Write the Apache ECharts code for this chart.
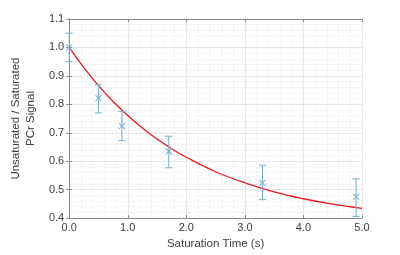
<!DOCTYPE html>
<html><head><meta charset="utf-8">
<script src="https://cdn.jsdelivr.net/npm/echarts@6/dist/echarts.min.js"></script>
<style>html,body{margin:0;padding:0;background:#fff}#c{width:400px;height:255px}</style>
</head><body><div id="c"></div>
<script>
// measured data points with error bars
var timeVals = [0.0, 0.5, 0.9, 1.7, 3.3, 4.9];
var meanVals = [1.000, 0.822, 0.723, 0.635, 0.524, 0.475];
var lowVals  = [0.950, 0.770, 0.673, 0.577, 0.465, 0.406];
var highVals = [1.050, 0.869, 0.775, 0.688, 0.586, 0.538];
// fitted curve samples
var fitTimes = [0, 0.25, 0.5, 0.75, 1.0, 1.25, 1.5, 1.75, 2.0, 2.5, 3.0, 3.5, 4.0, 4.5, 5.0];
var fitVals  = [1.000, 0.929, 0.866, 0.810, 0.761, 0.717, 0.678, 0.644, 0.614, 0.563, 0.524, 0.492, 0.468, 0.449, 0.434];
var xTicks = ['0.0','1.0','2.0','3.0','4.0','5.0'];

var errColor = '#7db4d2';
var font = 'Liberation Sans, Arial, sans-serif';

var errData = timeVals.map(function(t,i){return [t, meanVals[i], lowVals[i], highVals[i]];});
var fitData = fitTimes.map(function(t,i){return [t, fitVals[i]];});

var chart = echarts.init(document.getElementById('c'), null, {renderer:'canvas'});
var axisCommon = {
  axisLine:{show:true, lineStyle:{color:'#8a8a8a', width:1}},
  axisTick:{show:true, inside:true, length:3, lineStyle:{color:'#8a8a8a'}},
  minorTick:{show:false, splitNumber:5},
};
chart.setOption({
  animation:false,
  backgroundColor:'#fff',
  grid:{left:58, right:38, top:19, bottom:36, show:false},
  xAxis:[Object.assign({
    type:'value', min:0, max:5, interval:1, position:'bottom',
    axisLabel:{color:'#404040', fontSize:11, fontFamily:font, margin:4,
      formatter:function(v){return xTicks[Math.round(v)];}},
    splitLine:{show:true, lineStyle:{color:'#e6e6e6', width:1}},
    minorTick:{show:false, splitNumber:5},
    minorSplitLine:{show:true, lineStyle:{color:'#efefef', type:[2,2], width:1}},
    name:'Saturation Time (s)', nameLocation:'middle', nameGap:19,
    nameTextStyle:{color:'#404040', fontSize:11.5, fontFamily:font}
  }, {axisLine:axisCommon.axisLine, axisTick:axisCommon.axisTick}),
  Object.assign({
    type:'value', min:0, max:5, interval:1, position:'top',
    axisLabel:{show:false}, splitLine:{show:false}
  }, {axisLine:axisCommon.axisLine, axisTick:axisCommon.axisTick})],
  yAxis:[Object.assign({
    type:'value', min:0.4, max:1.1, interval:0.1, position:'left',
    axisLabel:{color:'#404040', fontSize:11, fontFamily:font, margin:5,
      formatter:function(v){return v.toFixed(1);}},
    splitLine:{show:true, lineStyle:{color:'#e6e6e6', width:1}},
    minorTick:{show:false, splitNumber:5},
    minorSplitLine:{show:true, lineStyle:{color:'#efefef', type:[2,2], width:1}},
    name:'Unsaturated / Saturated\nPCr Signal', nameLocation:'middle', nameGap:22,
    nameRotate:90,
    nameTextStyle:{color:'#404040', fontSize:11.5, fontFamily:font, lineHeight:15, align:'center'}
  }, {axisLine:axisCommon.axisLine, axisTick:axisCommon.axisTick}),
  Object.assign({
    type:'value', min:0.4, max:1.1, interval:0.1, position:'right',
    axisLabel:{show:false}, splitLine:{show:false}
  }, {axisLine:axisCommon.axisLine, axisTick:axisCommon.axisTick})],
  series:[
    {
      type:'line', data:fitData, smooth:0.4, showSymbol:false, symbol:'none',
      lineStyle:{color:'#e8191c', width:1.3}, z:3
    },
    {
      type:'custom', data:errData, z:4,
      renderItem:function(params, api){
        var x = api.value(0);
        var c = api.coord([x, api.value(1)]);
        var lo = api.coord([x, api.value(2)]);
        var hi = api.coord([x, api.value(3)]);
        var cap = 3.5, m = 3;
        var st = {stroke:errColor, lineWidth:1.1};
        return {type:'group', children:[
          {type:'line', shape:{x1:c[0], y1:lo[1], x2:c[0], y2:hi[1]}, style:st},
          {type:'line', shape:{x1:c[0]-cap, y1:lo[1], x2:c[0]+cap, y2:lo[1]}, style:st},
          {type:'line', shape:{x1:c[0]-cap, y1:hi[1], x2:c[0]+cap, y2:hi[1]}, style:st},
          {type:'line', shape:{x1:c[0]-m, y1:c[1]-m, x2:c[0]+m, y2:c[1]+m}, style:st},
          {type:'line', shape:{x1:c[0]-m, y1:c[1]+m, x2:c[0]+m, y2:c[1]-m}, style:st}
        ]};
      }
    }
  ]
});
</script></body></html>
